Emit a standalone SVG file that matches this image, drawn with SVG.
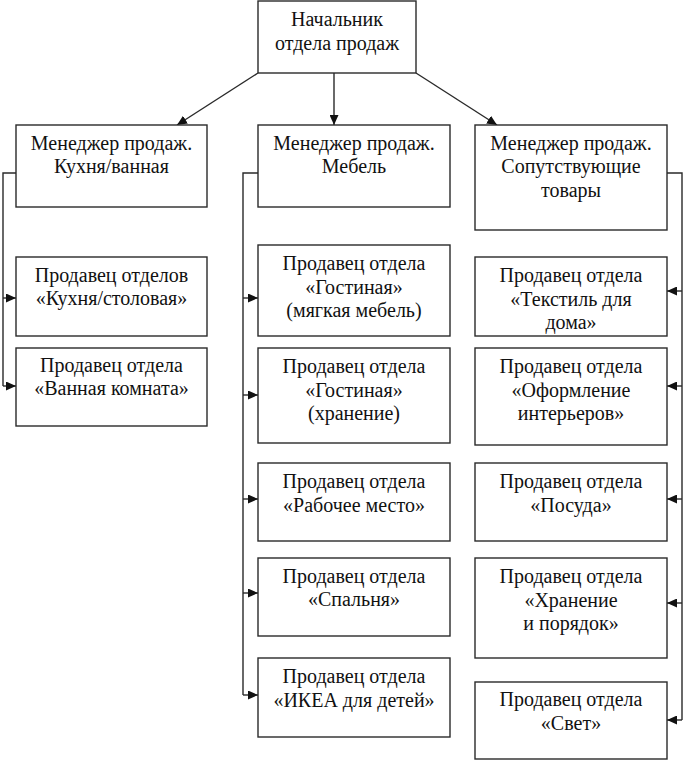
<svg xmlns="http://www.w3.org/2000/svg" width="683" height="761" viewBox="0 0 683 761">
<style>
.box{fill:#fff;stroke:#2a2a2a;stroke-width:1.4}
.t{font-family:'Liberation Serif','DejaVu Serif',serif;font-size:20px;fill:#111;text-anchor:middle}
.c{fill:none;stroke:#2a2a2a;stroke-width:1.4}
</style>
<defs>
<marker id="ah" markerUnits="userSpaceOnUse" markerWidth="11" markerHeight="9" refX="10" refY="4.5" orient="auto">
<path d="M0,0 L10,4.5 L0,9 z" fill="#111"/>
</marker>
</defs>
<rect width="683" height="761" fill="#fff"/>
<g id="connectors">
<path class="c" d="M258,73 L177,125" marker-end="url(#ah)"/>
<path class="c" d="M334,73 L334,125" marker-end="url(#ah)"/>
<path class="c" d="M416,73 L497,125" marker-end="url(#ah)"/>
<path class="c" d="M16,173 H3 V386"/>
<path class="c" d="M3,298 H16" marker-end="url(#ah)"/>
<path class="c" d="M3,386 H16" marker-end="url(#ah)"/>
<path class="c" d="M258,173 H243 V695"/>
<path class="c" d="M243,298 H258" marker-end="url(#ah)"/>
<path class="c" d="M243,395 H258" marker-end="url(#ah)"/>
<path class="c" d="M243,499 H258" marker-end="url(#ah)"/>
<path class="c" d="M243,593 H258" marker-end="url(#ah)"/>
<path class="c" d="M243,695 H258" marker-end="url(#ah)"/>
<path class="c" d="M667,173 H682 V720"/>
<path class="c" d="M682,291 H667" marker-end="url(#ah)"/>
<path class="c" d="M682,386 H667" marker-end="url(#ah)"/>
<path class="c" d="M682,499 H667" marker-end="url(#ah)"/>
<path class="c" d="M682,603 H667" marker-end="url(#ah)"/>
<path class="c" d="M682,720 H667" marker-end="url(#ah)"/>
</g>
<g id="head"><rect class="box" x="258" y="1" width="158" height="72"/><text class="t" x="337" y="26">Начальник</text><text class="t" x="337" y="50">отдела продаж</text></g>
<g id="m1"><rect class="box" x="16" y="125" width="191" height="82"/><text class="t" x="111.5" y="149.5">Менеджер продаж.</text><text class="t" x="111.5" y="173">Кухня/ванная</text></g>
<g id="m2"><rect class="box" x="258" y="125" width="192" height="82"/><text class="t" x="354" y="149.5">Менеджер продаж.</text><text class="t" x="354" y="173">Мебель</text></g>
<g id="m3"><rect class="box" x="475" y="125" width="192" height="105"/><text class="t" x="571" y="149.5">Менеджер продаж.</text><text class="t" x="571" y="173">Сопутствующие</text><text class="t" x="571" y="196.5">товары</text></g>
<g id="l1"><rect class="box" x="16" y="257" width="191" height="79"/><text class="t" x="111.5" y="282">Продавец отделов</text><text class="t" x="111.5" y="305">«Кухня/столовая»</text></g>
<g id="l2"><rect class="box" x="16" y="348" width="191" height="78"/><text class="t" x="111.5" y="372">Продавец отдела</text><text class="t" x="111.5" y="395">«Ванная комната»</text></g>
<g id="c1"><rect class="box" x="258" y="245" width="192" height="91"/><text class="t" x="354" y="270">Продавец отдела</text><text class="t" x="354" y="293.5">«Гостиная»</text><text class="t" x="354" y="317">(мягкая мебель)</text></g>
<g id="c2"><rect class="box" x="258" y="348" width="192" height="95"/><text class="t" x="354" y="373">Продавец отдела</text><text class="t" x="354" y="396.5">«Гостиная»</text><text class="t" x="354" y="420">(хранение)</text></g>
<g id="c3"><rect class="box" x="258" y="463" width="192" height="78"/><text class="t" x="354" y="488">Продавец отдела</text><text class="t" x="354" y="511.5">«Рабочее место»</text></g>
<g id="c4"><rect class="box" x="258" y="558" width="192" height="78"/><text class="t" x="354" y="582.5">Продавец отдела</text><text class="t" x="354" y="606">«Спальня»</text></g>
<g id="c5"><rect class="box" x="258" y="658" width="192" height="79"/><text class="t" x="354" y="683">Продавец отдела</text><text class="t" x="354" y="706.5">«ИКЕА для детей»</text></g>
<g id="r1"><rect class="box" x="475" y="257" width="192" height="79"/><text class="t" x="571" y="282">Продавец отдела</text><text class="t" x="571" y="305.5">«Текстиль для</text><text class="t" x="571" y="329">дома»</text></g>
<g id="r2"><rect class="box" x="475" y="348" width="192" height="97"/><text class="t" x="571" y="373">Продавец отдела</text><text class="t" x="571" y="396.5">«Оформление</text><text class="t" x="571" y="420">интерьеров»</text></g>
<g id="r3"><rect class="box" x="475" y="463" width="192" height="78"/><text class="t" x="571" y="488">Продавец отдела</text><text class="t" x="571" y="511.5">«Посуда»</text></g>
<g id="r4"><rect class="box" x="475" y="558" width="192" height="100"/><text class="t" x="571" y="583">Продавец отдела</text><text class="t" x="571" y="606.5">«Хранение</text><text class="t" x="571" y="630">и порядок»</text></g>
<g id="r5"><rect class="box" x="475" y="682" width="192" height="77"/><text class="t" x="571" y="706">Продавец отдела</text><text class="t" x="571" y="729.5">«Свет»</text></g>
</svg>
